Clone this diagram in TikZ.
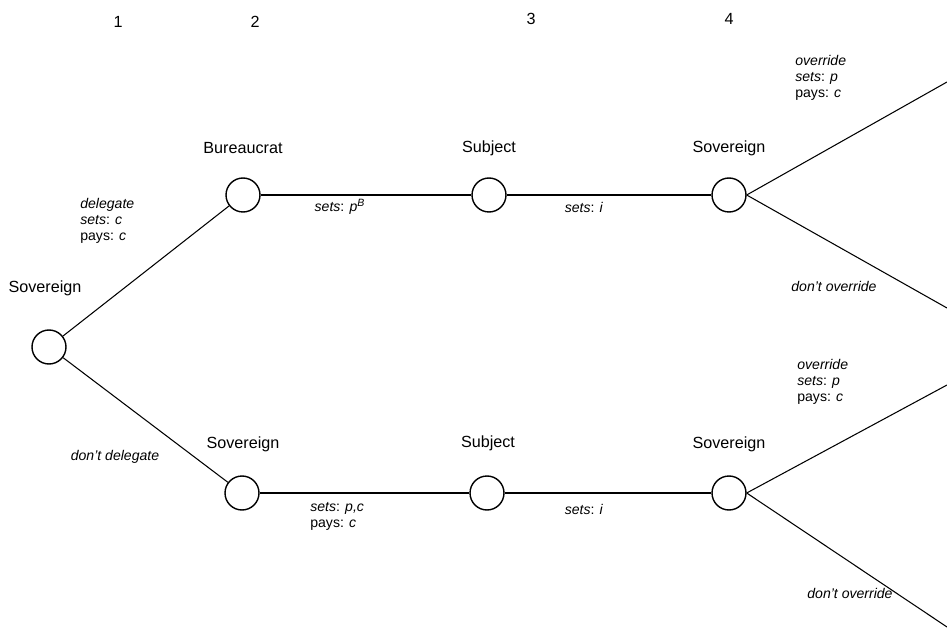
\documentclass[tikz,border=0pt]{standalone}
\usepackage{fontspec}
\setmainfont{Liberation Sans}
\usetikzlibrary{positioning}

\tikzset{
  choice/.style={circle,draw,line width=0.8pt,minimum size=0.68cm,inner sep=0pt},
  edge/.style={line width=0.6pt},
  who/.style={font=\fontsize{9.2}{11}\selectfont},
  act/.style={font=\fontsize{8}{9.2}\selectfont,align=left,inner sep=0pt,anchor=north west},
  actc/.style={font=\fontsize{8}{9.2}\selectfont,inner sep=0pt},
}

\begin{document}
\begin{tikzpicture}[x=0.02cm,y=-0.02cm]
\useasboundingbox (0,0) rectangle (947,628);
\foreach \n/\x/\y in {1/118/22,2/255/22,3/531/19,4/729/19}
  \node[who] (t\n) at (\x,\y) {\n};

\node[choice] (root) at (49,347) {};
\node[choice] (bur) at (243,195) {};
\node[choice] (subj1) at (489,195) {};
\node[choice] (sov1) at (729,195) {};
\node[choice] (sov2) at (242,493) {};
\node[choice] (subj2) at (487,493) {};
\node[choice] (sov3) at (729,493) {};

\coordinate (end1) at (947,82);
\coordinate (end2) at (947,308);
\coordinate (end3) at (947,385);
\coordinate (end4) at (947,627);

\draw[edge] (root) -- (bur);
\draw[edge] (root) -- (sov2);
\draw[edge] (bur) -- (subj1) -- (sov1);
\draw[edge] (sov2) -- (subj2) -- (sov3);
\draw[edge] (sov1.east) -- (end1);
\draw[edge] (sov1.east) -- (end2);
\draw[edge] (sov3.east) -- (end3);
\draw[edge] (sov3.east) -- (end4);

\node[who] (lroot) at (45,288) {Sovereign};
\node[who] (lbur) at (243,148) {Bureaucrat};
\node[who] (lsubj1) at (489,148) {Subject};
\node[who] (lsov1) at (729,148) {Sovereign};
\node[who] (lsov2) at (243,444) {Sovereign};
\node[who] (lsubj2) at (488,443) {Subject};
\node[who] (lsov3) at (729,444) {Sovereign};

\node[act] (adel) at (80,198) {\textit{delegate}\\\textit{sets}: \textit{c}\\pays: \textit{c}};
\node[actc] (anodel) at (115,457) {\textit{don’t delegate}};
\node[actc] (apb) at (340,207) {\textit{sets}: \textit{p}\textsuperscript{\textit{B}}};
\node[actc] (ai1) at (584,207) {\textit{sets}: \textit{i}};
\node[act] (aov1) at (795,55) {\textit{override}\\\textit{sets}: \textit{p}\\pays: \textit{c}};
\node[actc] (anov1) at (834,286) {\textit{don’t override}};
\node[act] (apc) at (310,502) {\textit{sets}: \textit{p,c}\\pays: \textit{c}};
\node[actc] (ai2) at (584,509) {\textit{sets}: \textit{i}};
\node[act] (aov2) at (797,359) {\textit{override}\\\textit{sets}: \textit{p}\\pays: \textit{c}};
\node[actc] (anov2) at (850,593) {\textit{don’t override}};
\end{tikzpicture}
\end{document}
